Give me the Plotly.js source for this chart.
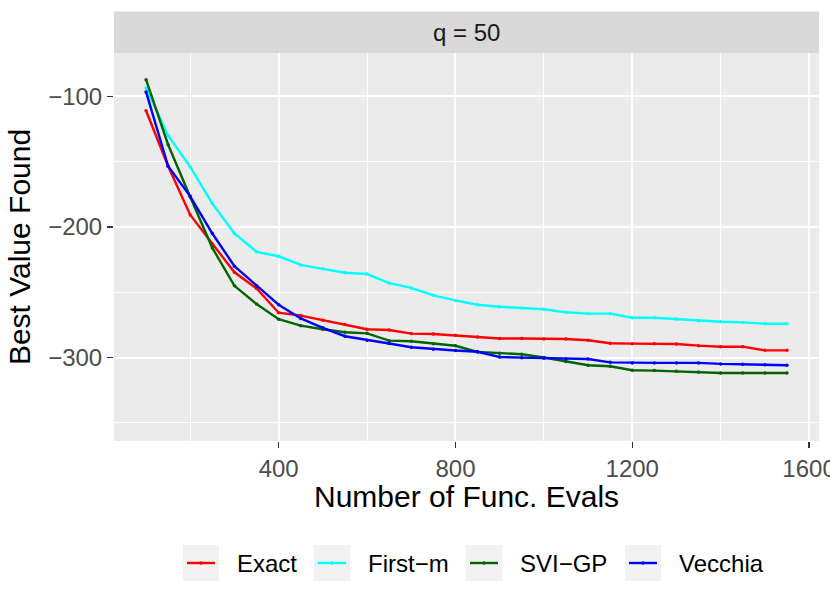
<!DOCTYPE html>
<html>
<head>
<meta charset="utf-8">
<script src="https://cdn.plot.ly/plotly-3.0.1.min.js"></script>
<style>
  body { margin: 0; background: #fff; }
  #plot { width: 830px; height: 604px; }
</style>
</head>
<body>
<div id="plot"></div>
<script>
const evals = [100, 150, 200, 250, 300, 350, 400, 450, 500, 550, 600, 650, 700, 750, 800,
  850, 900, 950, 1000, 1050, 1100, 1150, 1200, 1250, 1300, 1350, 1400, 1450, 1500, 1550];

const exact = [-111, -153.5, -190.8, -213, -234.7, -247, -265.6, -267.8, -271.4, -274.7,
  -278.3, -278.8, -281.6, -281.9, -282.9, -284.2, -285.3, -285.3, -285.7, -285.7,
  -286.7, -289, -289.3, -289.3, -289.5, -290.8, -291.6, -291.6, -294.4, -294.4];
const firstM = [-93.6, -130, -154, -182, -205, -219, -222.4, -229, -232, -235,
  -236, -243, -246.6, -252.3, -256.2, -259.5, -261, -262, -263, -265.3,
  -266.3, -266.3, -269.4, -269.4, -270.4, -271.7, -272.5, -273, -274, -274];
const sviGp = [-87.2, -137, -177, -216, -245, -259, -270.6, -275.5, -278.3, -280.6,
  -281.4, -287, -287.5, -289.3, -290.9, -295.6, -296.7, -297.4, -299.9, -303,
  -305.8, -306.6, -309.6, -309.9, -310.5, -311, -311.8, -311.8, -311.8, -311.8];
const vecchia = [-96.6, -153.5, -176.5, -205, -230, -245, -259.5, -270, -277.2, -283.6,
  -286.6, -289.2, -292, -293.5, -294.5, -295.5, -299.5, -300, -300.5, -301,
  -301, -303.6, -304, -304, -304, -304, -304.8, -305, -305.5, -305.8];

const methods = ["Exact", "First\u2212m", "SVI\u2212GP", "Vecchia"];
const colors = ["#FF0000", "#00FFFF", "#006400", "#0000FF"];
const facetLabel = "q = 50";
const xTitle = "Number of Func. Evals";
const yTitle = "Best Value Found";

const FONT = "Liberation Sans, Arial, sans-serif";

// plot area in pixels (ggplot panel), used to place the strip, x title and legend
const W = 830, H = 604;
const M = {l: 114, r: 11, t: 53, b: 163};
const pw = W - M.l - M.r, ph = H - M.t - M.b;
const px = x => (x - M.l) / pw;
const py = y => (H - M.b - y) / ph;

// left edge of each legend key box (ggplot style legend, drawn by hand)
const keyLeft = [183, 314, 466, 625];
const keySize = 36;
const keyTop = 545;

const traces = [exact, firstM, sviGp, vecchia].map((ys, i) => ({
  x: evals,
  y: ys,
  name: methods[i],
  type: "scatter",
  mode: "lines+markers",
  line: {color: colors[i], width: 2.4},
  marker: {color: colors[i], size: 3.5}
}));

const axisCommon = {
  showline: false,
  zeroline: false,
  gridcolor: "#FFFFFF",
  gridwidth: 2,
  ticks: "outside",
  ticklen: 6,
  tickwidth: 1.5,
  tickcolor: "#333333",
  ticklabeloverflow: "allow",
  tickfont: {family: FONT, size: 24, color: "#4D4D4D"},
  minor: {showgrid: true, gridcolor: "#FFFFFF", gridwidth: 1}
};

const shapes = [{
  type: "rect", xref: "paper", yref: "paper",
  x0: 0, x1: 1, y0: 1, y1: py(M.t - 41.5),
  fillcolor: "#D9D9D9", line: {width: 0}, layer: "below"
}];
const annotations = [{
  text: facetLabel, xref: "paper", yref: "paper",
  x: 0.5, y: py(M.t - 20.8), xanchor: "center", yanchor: "middle",
  showarrow: false,
  font: {family: FONT, size: 24, color: "#1A1A1A"}
}, {
  text: xTitle, xref: "paper", yref: "paper",
  x: 0.5, y: py(496), xanchor: "center", yanchor: "middle",
  showarrow: false,
  font: {family: FONT, size: 30, color: "#000000"}
}];

methods.forEach((name, i) => {
  const x0 = keyLeft[i], yc = keyTop + keySize / 2;
  shapes.push({
    type: "rect", xref: "paper", yref: "paper",
    x0: px(x0), x1: px(x0 + keySize), y0: py(keyTop + keySize), y1: py(keyTop),
    fillcolor: "#F2F2F2", line: {width: 0}
  });
  shapes.push({
    type: "line", xref: "paper", yref: "paper",
    x0: px(x0 + 4), x1: px(x0 + keySize - 4), y0: py(yc), y1: py(yc),
    line: {color: colors[i], width: 2.4}
  });
  shapes.push({
    type: "circle", xref: "paper", yref: "paper",
    x0: px(x0 + keySize / 2 - 1.8), x1: px(x0 + keySize / 2 + 1.8),
    y0: py(yc + 1.8), y1: py(yc - 1.8),
    fillcolor: colors[i], line: {width: 0}
  });
  annotations.push({
    text: name, xref: "paper", yref: "paper",
    x: px(x0 + keySize + 16), y: py(yc), xanchor: "left", yanchor: "middle",
    showarrow: false,
    font: {family: FONT, size: 24, color: "#000000"}
  });
});

const layout = {
  width: W,
  height: H,
  margin: M,
  paper_bgcolor: "#FFFFFF",
  plot_bgcolor: "#EBEBEB",
  font: {family: FONT, color: "#000000"},
  xaxis: Object.assign({}, axisCommon, {
    range: [27.5, 1622.5],
    tick0: 0, dtick: 400,
    minor: Object.assign({}, axisCommon.minor, {dtick: 200})
  }),
  yaxis: Object.assign({}, axisCommon, {
    range: [-363.8, -66.8],
    tick0: 0, dtick: 100,
    minor: Object.assign({}, axisCommon.minor, {dtick: 50}),
    title: {text: yTitle, font: {family: FONT, size: 30, color: "#000"}, standoff: 8}
  }),
  showlegend: false,
  shapes: shapes,
  annotations: annotations
};

function draw() {
  try {
    Plotly.newPlot("plot", traces, layout, {displayModeBar: false, staticPlot: true});
  } catch (err) {
    console.error(err);
  }
}

draw();
</script>
</body>
</html>
